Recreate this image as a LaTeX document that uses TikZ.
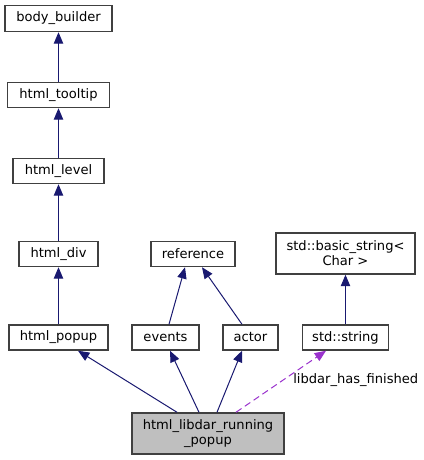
\documentclass[tikz,border=0pt]{standalone}
\usepackage{fontspec}
\setmainfont{DejaVu Sans}
\usepackage{tikz}
\usetikzlibrary{arrows.meta,calc}

\definecolor{edgeblue}{HTML}{191970}
\definecolor{usepurple}{HTML}{9A32CD}
\definecolor{boxgray}{HTML}{404040}

\tikzset{
    cls/.style={draw=boxgray, fill=white, line width=1.1pt, inner sep=0pt,
        minimum height=18.75pt, align=center,
        font=\fontsize{9.8}{11.4}\selectfont},
    inh/.style={edgeblue, line width=0.75pt, -{Triangle[length=8.5pt,width=7pt]}},
    usage/.style={usepurple, line width=0.75pt, dash pattern=on 5pt off 3pt,
        -{Triangle[length=8.5pt,width=7pt]}}
}

\begin{document}
\begin{tikzpicture}[x=0.75pt,y=-0.75pt]

    \useasboundingbox (0,0) rectangle (424,460);

    % Left chain
    \node[cls, minimum width=80.25pt, minimum height=19.5pt] (bodybuilder) at (58.5,18.5) {body\_builder};
    \node[cls, minimum width=76.5pt] (tooltip) at (58.5,95) {html\_tooltip};
    \node[cls, minimum width=68.25pt] (level) at (58.5,171) {html\_level};
    \node[cls, minimum width=59.25pt] (div) at (58.5,254) {html\_div};
    \node[cls, minimum width=74.25pt] (popup) at (58.5,337.5) {html\_popup};

    % Middle
    \node[cls, minimum width=63pt] (reference) at (193,254) {reference};
    \node[cls, minimum width=50.25pt] (events) at (165.5,337.5) {events};
    \node[cls, minimum width=41.25pt] (actor) at (250.5,337.5) {actor};

    % Right
    \node[cls, minimum width=104.25pt, minimum height=30.75pt] (basicstring) at (345.5,253.5) {std::basic\_string<\\Char >};
    \node[cls, minimum width=64.5pt] (stdstring) at (345.5,337.5) {std::string};

    % Main class
    \node[cls, fill=gray!50, minimum width=114pt, minimum height=30.75pt] (running) at (208,433.5) {html\_libdar\_running\\\_popup};

    % Inheritance
    \draw[inh] (tooltip) -- (bodybuilder);
    \draw[inh] (level) -- (tooltip);
    \draw[inh] (div) -- (level);
    \draw[inh] (popup) -- (div);
    \draw[inh] ($(events.north)+(3.5,0)$) -- ($(reference.south)+(-8,0)$);
    \draw[inh] ($(actor.north)+(-8.5,0)$) -- ($(reference.south)+(9,0)$);
    \draw[inh] (stdstring) -- (basicstring);
    \draw[inh] ($(running.north)+(-31,0)$) -- ($(popup.south)+(19.5,0)$);
    \draw[inh] ($(running.north)+(-9,0)$) -- ($(events.south)+(4.5,0)$);
    \draw[inh] ($(running.north)+(9,0)$) -- ($(actor.south)+(-8.5,0)$);

    % Member usage
    \draw[usage] ($(running.north)+(28,0)$) -- ($(stdstring.south)+(-19.5,0)$);
    \node[anchor=west, font=\fontsize{9.8}{11.4}\selectfont, inner sep=0pt] (finished) at (293,380) {libdar\_has\_finished};

\end{tikzpicture}
\end{document}
